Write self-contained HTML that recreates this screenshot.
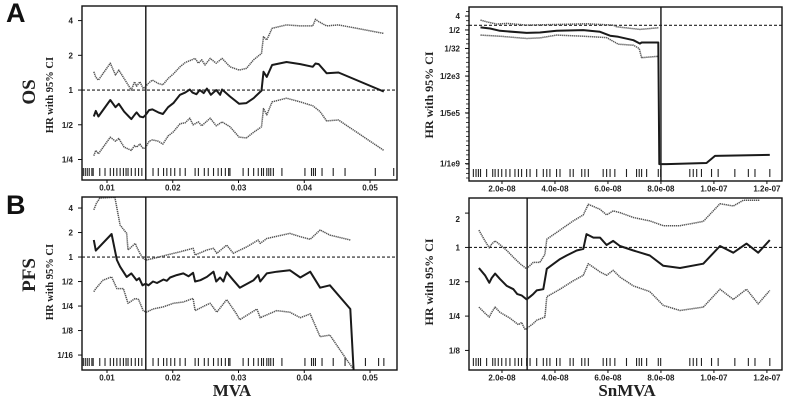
<!DOCTYPE html>
<html><head><meta charset="utf-8"><style>
html,body{margin:0;padding:0;background:#fff;width:791px;height:403px;overflow:hidden;}
svg{display:block;}
.tk{font-family:"Liberation Sans",sans-serif;font-weight:bold;font-size:8px;fill:#222;}
.sf{font-family:"Liberation Serif",serif;font-weight:bold;fill:#222;}
</style></head><body>
<svg id="chart" width="791" height="403" viewBox="0 0 791 403" xmlns="http://www.w3.org/2000/svg">
<text x="6" y="22" font-family="Liberation Sans,sans-serif" font-weight="bold" font-size="27" fill="#111">A</text>
<text x="6" y="214" font-family="Liberation Sans,sans-serif" font-weight="bold" font-size="27" fill="#111">B</text>
<text class="sf" font-size="19" transform="translate(35,92) rotate(-90)" text-anchor="middle">OS</text>
<text class="sf" font-size="19" transform="translate(35,275) rotate(-90)" text-anchor="middle">PFS</text>
<text class="sf" font-size="10.5" transform="translate(53,95) rotate(-90)" text-anchor="middle">HR with 95% CI</text>
<text class="sf" font-size="10.5" transform="translate(53,282) rotate(-90)" text-anchor="middle">HR with 95% CI</text>
<text class="sf" font-size="12" transform="translate(433,95) rotate(-90)" text-anchor="middle">HR with 95% CI</text>
<text class="sf" font-size="12" transform="translate(433,282) rotate(-90)" text-anchor="middle">HR with 95% CI</text>
<text class="sf" font-size="17" x="232" y="396" text-anchor="middle">MVA</text>
<text class="sf" font-size="17" x="627" y="396" text-anchor="middle">SnMVA</text>
</svg>
<script>
// ---- Panel A-left (OS vs MVA) ----
const aL_x = [.0080,.0083,.0087,.0105,.0113,.0118,.0126,.0137,.0142,.0145,.0150,.0155,.0159,.0164,.0169,.0178,.0185,.0193,.0201,.0211,.0219,.0226,.0230,.0236,.0241,.0247,.0252,.0258,.0266,.0272,.0275,.0287,.0301,.0312,.0323,.0335,.0338,.0343,.0351,.0373,.0394,.0413,.0417,.0422,.0434,.0452,.0521];
const aL_hr = [0.59,0.66,0.59,0.82,0.71,0.76,0.65,0.56,0.61,0.64,0.59,0.58,0.61,0.67,0.68,0.64,0.62,0.71,0.77,0.91,0.95,1.01,0.95,0.92,1.0,0.94,1.03,0.91,1.0,0.91,1.01,0.88,0.76,0.77,0.85,0.99,1.44,1.30,1.65,1.75,1.68,1.59,1.70,1.68,1.40,1.42,0.97];
const aL_upx = [.0080,.0083,.0087,.0105,.0113,.0118,.0126,.0137,.0142,.0145,.0150,.0155,.0159,.0164,.0169,.0178,.0185,.0193,.0201,.0211,.0219,.0234,.0239,.0244,.0249,.0257,.0266,.0275,.0287,.0301,.0312,.0323,.0335,.0338,.0343,.0351,.0373,.0394,.0413,.0417,.0422,.0434,.0452,.0521];
const aL_up = [1.44,1.29,1.22,1.71,1.35,1.49,1.26,1.0,1.18,1.08,1.18,1.03,1.08,1.16,1.22,1.14,1.11,1.26,1.38,1.59,1.73,1.88,1.71,1.83,1.65,1.88,1.71,1.88,1.59,1.49,1.54,1.83,2.08,2.9,2.72,3.43,3.67,3.6,3.6,4.1,3.92,3.6,3.67,3.1];
const aL_lox = [.0080,.0083,.0087,.0105,.0113,.0118,.0126,.0137,.0142,.0145,.0150,.0155,.0159,.0164,.0169,.0178,.0185,.0193,.0201,.0211,.0219,.0226,.0231,.0239,.0244,.0257,.0266,.0275,.0287,.0301,.0312,.0323,.0335,.0338,.0343,.0351,.0373,.0394,.0413,.0424,.0434,.0452,.0521];
const aL_lo = [0.27,0.30,0.28,0.39,0.36,0.38,0.32,0.30,0.33,0.32,0.34,0.31,0.32,0.36,0.37,0.36,0.34,0.40,0.435,0.51,0.52,0.57,0.50,0.53,0.49,0.57,0.49,0.53,0.48,0.39,0.385,0.43,0.48,0.69,0.61,0.79,0.85,0.79,0.73,0.65,0.54,0.55,0.30];
const aL_rug = [.0064,.0067,.0070,.0073,.0077,.0079,.0089,.0097,.0105,.0110,.0115,.0120,.0125,.0129,.0132,.0137,.0143,.0148,.0153,.0159,.0170,.0178,.0186,.0191,.0197,.0203,.0211,.0219,.0234,.0239,.0248,.0254,.0262,.0269,.0274,.0280,.0285,.0287,.0307,.0315,.0323,.0330,.0335,.0338,.0343,.0346,.0349,.0353,.0366,.0401,.0411,.0414,.0417,.0427,.0444,.0462,.0508,.0536];
const aL_cut = 0.0159;
const mvaTicks = [0.01,0.02,0.03,0.04,0.05];
const mvaTickLabels = ['0.01','0.02','0.03','0.04','0.05'];
const aL_yTicks = [4,2,1,0.5,0.25];
const aL_yLabels = ['4','2','1','1/2','1/4'];

// ---- Panel A-right (OS vs SnMVA), x in units of 1e-8 ----
const aR_x = [1.19,1.55,1.92,2.93,3.43,4.06,5.07,5.70,6.08,6.39,6.96,7.21,7.27,7.90,7.94,8.21,9.72,10.04,12.11];
const aR_hr = [0.73,0.62,0.44,0.32,0.34,0.44,0.49,0.38,0.21,0.18,0.107,0.065,0.076,0.076,9.3e-10,9.3e-10,1.1e-9,3.2e-9,3.7e-9];
const aR_upx = [1.19,1.42,1.80,2.18,2.93,4.19,5.19,6.20,6.33,7.21,7.90];
const aR_up = [2.19,1.7,1.2,1.33,1.03,1.14,1.26,1.03,0.80,0.54,0.69];
const aR_lox = [1.19,1.92,2.93,3.43,4.06,5.07,5.95,6.39,6.96,7.18,7.27,7.90];
const aR_lo = [0.23,0.196,0.138,0.153,0.23,0.196,0.16,0.059,0.051,0.031,0.0078,0.0096];
const aR_rug = [0.92,1.02,1.11,1.19,1.42,1.65,1.74,1.86,1.99,2.15,2.30,2.49,2.62,2.74,2.93,3.06,3.31,3.56,3.69,3.81,4.06,4.19,4.57,4.69,5.01,5.13,5.26,5.82,5.95,6.08,6.26,6.70,7.08,7.18,7.27,7.46,7.90,7.99,9.09,9.22,9.35,9.53,9.91,10.16,10.79,11.30,11.55,12.11];
const aR_cut = 8.0;
const snTicks = [2,4,6,8,10,12];
const snTickLabels = ['2.0e-08','4.0e-08','6.0e-08','8.0e-08','1.0e-07','1.2e-07'];
const aR_yTicks = [4,0.5,1/32,1/2000,1/500000,1e-9];
const aR_yLabels = ['4','1/2','1/32','1/2e3','1/5e5','1/1e9'];

// ---- Panel B-left (PFS vs MVA) ----
const bL_x = [.0080,.0083,.0107,.0115,.0120,.0130,.0137,.0145,.0149,.0154,.0159,.0163,.0170,.0176,.0186,.0191,.0196,.0206,.0216,.0224,.0231,.0234,.0242,.0252,.0262,.0266,.0272,.0277,.0282,.0292,.0302,.0323,.0330,.0333,.0343,.0358,.0378,.0394,.0409,.0424,.0439,.0470,.0475];
const bL_hr = [1.62,1.2,1.92,0.92,0.76,0.57,0.63,0.52,0.55,0.45,0.47,0.45,0.50,0.48,0.53,0.51,0.56,0.60,0.63,0.58,0.64,0.50,0.52,0.57,0.66,0.50,0.56,0.50,0.65,0.52,0.42,0.52,0.60,0.50,0.63,0.66,0.69,0.56,0.66,0.42,0.45,0.23,0.041];
const bL_upx = [.0080,.0084,.0089,.0107,.0112,.0120,.0130,.0132,.0143,.0145,.0150,.0155,.0160,.0170,.0181,.0191,.0211,.0231,.0234,.0252,.0262,.0267,.0282,.0292,.0313,.0330,.0333,.0343,.0378,.0394,.0409,.0424,.0439,.0470];
const bL_up = [3.8,4.6,5.3,5.4,5.4,2.47,1.95,1.22,1.47,1.34,1.11,0.96,0.92,0.96,1.01,1.06,1.16,1.28,1.06,1.22,1.28,1.11,1.40,1.11,1.34,1.62,1.47,1.69,1.95,1.78,1.65,2.15,1.86,1.62];
const bL_lox = [.0080,.0083,.0094,.0107,.0115,.0125,.0132,.0143,.0148,.0155,.0160,.0170,.0186,.0201,.0216,.0231,.0234,.0252,.0257,.0267,.0282,.0297,.0302,.0328,.0333,.0358,.0378,.0394,.0409,.0424,.0439,.0465,.0475];
const bL_lo = [0.375,0.41,0.52,0.57,0.41,0.41,0.27,0.31,0.30,0.22,0.21,0.23,0.245,0.27,0.28,0.31,0.22,0.26,0.27,0.21,0.30,0.20,0.17,0.23,0.18,0.22,0.21,0.18,0.20,0.105,0.11,0.054,0.042];
const bL_rug = [.0064,.0067,.0070,.0073,.0077,.0079,.0089,.0097,.0105,.0110,.0115,.0120,.0125,.0129,.0132,.0137,.0143,.0148,.0153,.0159,.0170,.0178,.0186,.0191,.0197,.0203,.0211,.0219,.0234,.0239,.0248,.0254,.0262,.0269,.0274,.0280,.0285,.0287,.0307,.0315,.0323,.0330,.0335,.0338,.0343,.0346,.0349,.0353,.0366,.0401,.0411,.0414,.0417,.0427,.0444,.0462,.0493,.0513,.0521];
const bL_cut = 0.0159;
const bL_yTicks = [4,2,1,0.5,0.25,0.125,0.0625];
const bL_yLabels = ['4','2','1','1/2','1/4','1/8','1/16'];

// ---- Panel B-right (PFS vs SnMVA) ----
const bR_x = [1.13,1.36,1.52,1.61,1.74,1.92,2.18,2.43,2.58,2.74,2.93,3.06,3.18,3.31,3.56,3.69,4.19,4.44,4.82,5.07,5.19,5.45,5.70,5.95,6.20,6.45,6.96,7.58,8.09,8.72,9.60,10.23,10.73,11.23,11.67,12.11];
const bR_hr = [0.66,0.57,0.49,0.54,0.59,0.53,0.46,0.43,0.39,0.38,0.35,0.37,0.39,0.42,0.43,0.65,0.79,0.85,0.94,0.97,1.31,1.22,1.22,1.05,1.14,1.03,0.94,0.85,0.69,0.66,0.72,1.03,0.90,1.08,0.90,1.16];
const bR_upx = [1.13,1.36,1.52,1.61,1.74,1.92,2.18,2.43,2.68,2.93,3.18,3.43,3.62,3.69,4.19,4.69,5.07,5.26,5.70,5.95,6.20,6.45,6.96,7.58,8.09,8.72,9.60,10.23,10.73,11.11,11.74];
const bR_up = [1.42,1.14,0.99,1.07,1.14,1.06,0.94,0.82,0.72,0.65,0.74,0.74,0.87,1.18,1.42,1.71,1.93,2.39,2.16,1.93,2.09,2.02,1.83,1.71,1.55,1.55,1.69,2.42,2.31,2.59,2.59];
const bR_lox = [1.13,1.36,1.52,1.61,1.74,1.92,2.30,2.62,2.74,2.87,3.18,3.31,3.62,3.69,4.19,4.69,5.07,5.26,5.70,5.95,6.20,6.45,6.96,7.58,8.09,8.72,9.60,10.23,10.73,11.23,11.67,12.11];
const bR_lo = [0.30,0.265,0.245,0.27,0.30,0.27,0.24,0.21,0.22,0.19,0.215,0.23,0.245,0.37,0.43,0.51,0.57,0.72,0.61,0.57,0.63,0.55,0.46,0.41,0.31,0.28,0.30,0.43,0.35,0.43,0.32,0.42];
const bR_rug = [0.92,1.02,1.11,1.19,1.42,1.65,1.74,1.86,1.99,2.15,2.30,2.49,2.62,2.74,2.93,3.06,3.31,3.56,3.69,3.81,4.06,4.19,4.57,4.69,5.01,5.13,5.26,5.82,5.95,6.08,6.26,6.70,7.08,7.18,7.27,7.46,7.90,7.99,9.09,9.22,9.35,9.53,9.91,10.16,10.79,11.30,11.55,12.11];
const bR_cut = 2.95;
const bR_yTicks = [2,1,0.5,0.25,0.125];
const bR_yLabels = ['2','1','1/2','1/4','1/8'];

const NS = 'http://www.w3.org/2000/svg';
const svg = document.getElementById('chart');
function mk(tag, attrs, parent) {
  const e = document.createElementNS(NS, tag);
  for (const k in attrs) e.setAttribute(k, attrs[k]);
  (parent || svg).appendChild(e);
  return e;
}

function panel(p) {
  const g = mk('g', {});
  
  
  const sx = v => p.L + (v - p.x0) / (p.x1 - p.x0) * (p.R - p.L);
  const sy = hr => p.T + (p.l0 - Math.log2(hr)) / (p.l0 - p.l1) * (p.B - p.T);
  const cid = 'clip-' + p.name;
  const cp = mk('clipPath', {id: cid}, g);
  mk('rect', {x: p.L, y: p.T, width: p.R - p.L, height: p.B - p.T}, cp);
  const inner = mk('g', {'clip-path': 'url(#' + cid + ')'}, g);
  const ref = mk('line', {x1: p.L, x2: p.R, y1: sy(1), y2: sy(1), stroke: '#222', 'stroke-width': 1.1, 'stroke-dasharray': '3,2'}, inner);
  
  
  function line(xs, ys, nm, dotted) {
    let d = '';
    xs.forEach((x, i) => { d += (i ? 'L' : 'M') + sx(x).toFixed(1) + ',' + sy(ys[i]).toFixed(1); });
    const pa = mk('path', {d: d, fill: 'none', stroke: dotted ? '#555' : '#1a1a1a', 'stroke-width': dotted ? 1.5 : 2, 'stroke-dasharray': dotted ? '1.3,0.7' : 'none', 'stroke-linejoin': 'round'}, inner);
    
    
  }
  line(p.upx, p.up, 'upper-ci-line', true);
  line(p.lox, p.lo, 'lower-ci-line', true);
  line(p.x, p.hr, 'hr-line', false);
  p.rug.forEach(v => {
    const r = mk('line', {x1: sx(v), x2: sx(v), y1: p.B - 12, y2: p.B - 4, stroke: '#222', 'stroke-width': 1.1}, inner);
    
    
  });
  const c = mk('line', {x1: sx(p.cut), x2: sx(p.cut), y1: p.T, y2: p.B, stroke: '#222', 'stroke-width': 1.5}, g);
  
  
  const fr = mk('rect', {x: p.L, y: p.T, width: p.R - p.L, height: p.B - p.T, fill: 'none', stroke: '#111', 'stroke-width': 1.4}, g);
  
  
  p.xt.forEach((v, i) => {
    mk('line', {x1: sx(v), x2: sx(v), y1: p.B, y2: p.B + 3, stroke: '#111', 'stroke-width': 1}, g);
    const t = mk('text', {x: sx(v), y: p.B + 10.5, 'text-anchor': 'middle', class: 'tk'}, g);
    t.textContent = p.xtl[i];
    
    
  });
  if (p.minor) {
    for (let l = Math.floor(p.l0); l >= Math.ceil(p.l1); l--) {
      mk('line', {x1: p.L - 3, x2: p.L, y1: sy(Math.pow(2, l)), y2: sy(Math.pow(2, l)), stroke: '#111', 'stroke-width': 0.8}, g);
    }
  }
  p.yt.forEach((v, i) => {
    const y = sy(v);
    mk('line', {x1: p.L - 4, x2: p.L, y1: y, y2: y, stroke: '#111', 'stroke-width': 1}, g);
    const t = mk('text', {x: p.L - 9, y: y + 3 + (p.yoff && i === 0 ? p.yoff : 0), 'text-anchor': 'end', class: 'tk'}, g);
    t.textContent = p.ytl[i];
    
    
  });
}

panel({name: 'os-mva-panel', L: 82, R: 397, T: 6, B: 180, x0: 0.0062, x1: 0.0541, l0: 2.42, l1: -2.59,
  x: aL_x, hr: aL_hr, upx: aL_upx, up: aL_up, lox: aL_lox, lo: aL_lo, rug: aL_rug, cut: aL_cut,
  xt: mvaTicks, xtl: mvaTickLabels, yt: aL_yTicks, ytl: aL_yLabels});
panel({name: 'os-snmva-panel', L: 469, R: 782, T: 7, B: 181, x0: 0.755, x1: 12.57, l0: 3.96, l1: -33.65, minor: true,
  x: aR_x, hr: aR_hr, upx: aR_upx, up: aR_up, lox: aR_lox, lo: aR_lo, rug: aR_rug, cut: aR_cut,
  xt: snTicks, xtl: snTickLabels, yt: aR_yTicks, ytl: aR_yLabels});
panel({name: 'pfs-mva-panel', L: 82, R: 397, T: 197, B: 370, x0: 0.0062, x1: 0.0541, l0: 2.45, l1: -4.61,
  x: bL_x, hr: bL_hr, upx: bL_upx, up: bL_up, lox: bL_lox, lo: bL_lo, rug: bL_rug, cut: bL_cut,
  xt: mvaTicks, xtl: mvaTickLabels, yt: bL_yTicks, ytl: bL_yLabels});
panel({name: 'pfs-snmva-panel', L: 469, R: 782, T: 198, B: 370, x0: 0.755, x1: 12.57, l0: 1.44, l1: -3.57, yoff: 6,
  x: bR_x, hr: bR_hr, upx: bR_upx, up: bR_up, lox: bR_lox, lo: bR_lo, rug: bR_rug, cut: bR_cut,
  xt: snTicks, xtl: snTickLabels, yt: bR_yTicks, ytl: bR_yLabels});
</script>
</body></html>
